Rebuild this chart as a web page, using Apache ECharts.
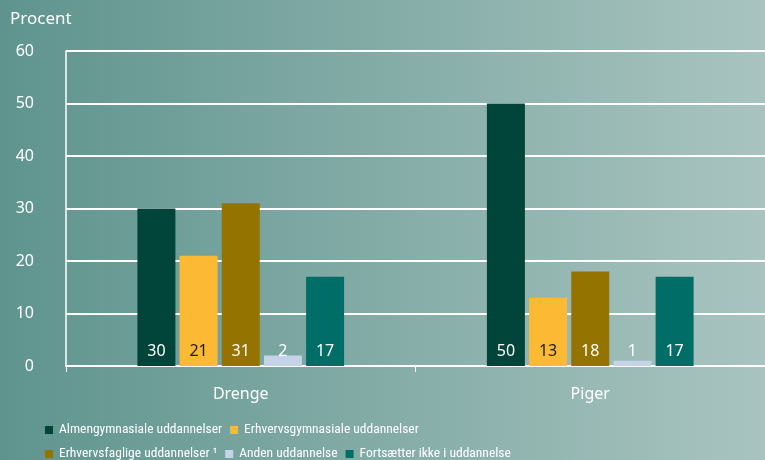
<!DOCTYPE html>
<html>
<head>
<meta charset="utf-8">
<script src="https://cdn.jsdelivr.net/npm/echarts@6/dist/echarts.min.js"></script>
<style>
  html, body { margin: 0; padding: 0; }
  #chart { width: 765px; height: 460px; }
</style>
</head>
<body>
<div id="chart"></div>
<script>
const categories = ['Drenge', 'Piger'];
const seriesNames = [
  'Almengymnasiale uddannelser',
  'Erhvervsgymnasiale uddannelser',
  'Erhvervsfaglige uddannelser \u00b9',
  'Anden uddannelse',
  'Fortsætter ikke i uddannelse'
];
const almen = [30, 50];
const erhvGym = [21, 13];
const erhvFag = [31, 18];
const anden = [2, 1];
const ikke = [17, 17];
const yTicks = [0, 10, 20, 30, 40, 50, 60];

const colors = ['#00443a', '#fbb934', '#957300', '#c5d3e8', '#006e66'];
const labelColors = ['#ffffff', '#1a1a1a', '#ffffff', '#ffffff', '#ffffff'];
const values = [almen, erhvGym, erhvFag, anden, ikke];
const font = 'Noto Sans';
const narrow = 'Roboto Condensed';

const chart = echarts.init(document.getElementById('chart'));

const series = values.map((data, i) => ({
  name: seriesNames[i],
  type: 'bar',
  data: data,
  barWidth: 38,
  barGap: '11%',
  itemStyle: { color: colors[i] },
  label: {
    show: true,
    position: 'insideBottom',
    distance: 7,
    color: labelColors[i],
    fontFamily: font,
    fontSize: 16
  },
  z: 3
}));

const legendBase = {
  left: 40,
  itemWidth: 8,
  itemHeight: 8,
  itemGap: 8,
  icon: 'rect',
  textStyle: { color: '#ffffff', fontSize: 13.5, fontFamily: narrow, padding: [0, 0, 0, 1] }
};

const option = {
  backgroundColor: new echarts.graphic.LinearGradient(0, 0, 1, 0, [
    { offset: 0, color: '#5f948e' },
    { offset: 1, color: '#a9c4c0' }
  ]),
  color: colors,
  textStyle: { fontFamily: font },
  grid: { left: 66, right: 0, top: 51, bottom: 94 },
  title: {
    text: 'Procent',
    left: 5,
    top: 6,
    textStyle: { color: '#ffffff', fontSize: 17, fontWeight: 'normal', fontFamily: font }
  },
  legend: [
    Object.assign({}, legendBase, { data: seriesNames.slice(0, 2), top: 418 }),
    Object.assign({}, legendBase, { data: seriesNames.slice(2), top: 442 })
  ],
  xAxis: {
    type: 'category',
    data: categories,
    axisLine: { lineStyle: { color: '#ffffff', width: 2 } },
    axisTick: { show: true, length: 6, lineStyle: { color: '#ffffff' } },
    axisLabel: { color: '#ffffff', fontSize: 16, margin: 20, fontFamily: font }
  },
  yAxis: {
    type: 'value',
    min: yTicks[0],
    max: yTicks[yTicks.length - 1],
    interval: 10,
    axisLine: { show: true, lineStyle: { color: '#ffffff', width: 1.5 } },
    axisTick: { show: false },
    axisLabel: { color: '#ffffff', fontSize: 16, margin: 32, fontFamily: font },
    splitLine: { lineStyle: { color: '#ffffff', width: 2 } }
  },
  series: series
};

chart.setOption(option);
</script>
</body>
</html>
